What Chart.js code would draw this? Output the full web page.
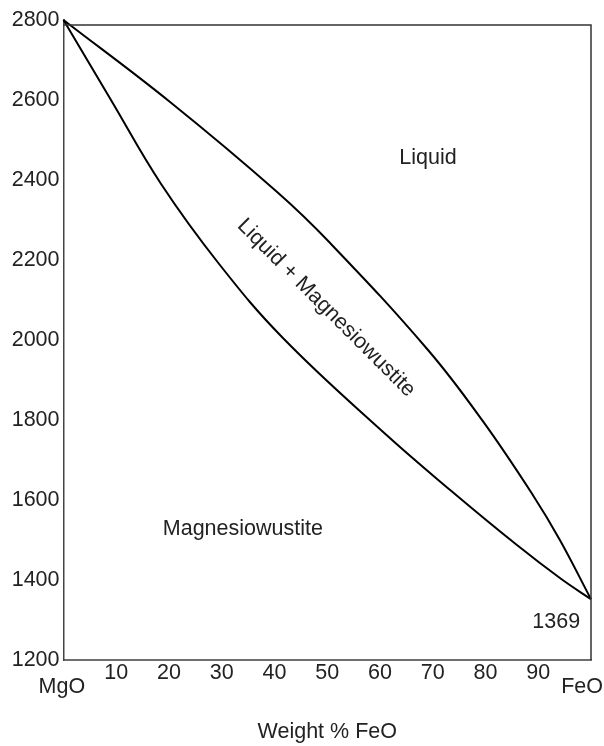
<!DOCTYPE html>
<html>
<head>
<meta charset="utf-8">
<script src="https://cdn.jsdelivr.net/npm/chart.js@4/dist/chart.umd.min.js"></script>
<style>
  html, body { margin: 0; padding: 0; background: #ffffff; }
  #wrap { width: 604px; height: 746px; }
</style>
</head>
<body>
<div id="wrap"><canvas id="c" width="604" height="746"></canvas></div>
<script>
// ---- data ----
const liquidusX = [0, 20.2, 40.5, 50.5, 69.1, 79.5, 89.0, 94.1, 100];
const liquidusT = [2800, 2595, 2370, 2243, 1975, 1797, 1612, 1500, 1352];
const solidusX  = [0, 9.0, 18.5, 29.5, 41.6, 60.6, 73.3, 85.9, 94.3, 100];
const solidusT  = [2800, 2600, 2390, 2190, 2005, 1770, 1625, 1488, 1403, 1352];
const yTicks = [1200, 1400, 1600, 1800, 2000, 2200, 2400, 2600, 2800];
const xTickLabels = ['10', '20', '30', '40', '50', '60', '70', '80', '90'];
const axisTitle = 'Weight % FeO';
const endLabels = ['MgO', 'FeO'];
const regionLabels = ['Liquid', 'Liquid + Magnesiowustite', 'Magnesiowustite', '1369'];

// ---- presentation ----
const FONT = '"Liberation Sans", Arial, Helvetica, sans-serif';
const FS = 21.5;
const TEXT = '#222222';

const toPts = (xs, ys) => xs.map((x, i) => ({ x: x, y: ys[i] }));

// annotation placements (data coordinates), kept separate from the data
const regionPlacement = [
  { x: 69.1, y: 2455, rot: 0 },
  { x: 49.8, y: 2080, rot: 45 },
  { x: 34.0, y: 1527, rot: 0 },
  { x: 93.4, y: 1295, rot: 0 }
];
const endPlacement = [
  { x: -0.3, y: 1132 },
  { x: 98.3, y: 1132 }
];

const textPlugin = {
  id: 'phaseText',
  afterDraw(chart) {
    const { ctx, scales: { x, y }, chartArea } = chart;
    ctx.save();
    // frame: top and right edges
    ctx.strokeStyle = '#333333';
    ctx.lineWidth = 1.5;
    const topY = y.getPixelForValue(2787.5);
    ctx.beginPath();
    ctx.moveTo(chartArea.left, topY);
    ctx.lineTo(chartArea.right, topY);
    ctx.lineTo(chartArea.right, chartArea.bottom);
    ctx.stroke();

    ctx.fillStyle = TEXT;
    ctx.font = FS + 'px ' + FONT;
    ctx.textAlign = 'center';
    ctx.textBaseline = 'middle';
    regionLabels.forEach((t, i) => {
      const p = regionPlacement[i];
      ctx.save();
      ctx.translate(x.getPixelForValue(p.x), y.getPixelForValue(p.y));
      ctx.rotate(p.rot * Math.PI / 180);
      ctx.fillText(t, 0, 0);
      ctx.restore();
    });
    endLabels.forEach((t, i) => {
      const p = endPlacement[i];
      ctx.fillText(t, x.getPixelForValue(p.x), y.getPixelForValue(p.y));
    });
    ctx.restore();
  }
};

new Chart(document.getElementById('c'), {
  type: 'scatter',
  data: {
    datasets: [
      {
        label: 'Liquidus',
        data: toPts(liquidusX, liquidusT),
        showLine: true,
        borderColor: '#000000',
        borderWidth: 2,
        pointRadius: 0,
        tension: 0.4,
        clip: false
      },
      {
        label: 'Solidus',
        data: toPts(solidusX, solidusT),
        showLine: true,
        borderColor: '#000000',
        borderWidth: 2,
        pointRadius: 0,
        tension: 0.4,
        clip: false
      }
    ]
  },
  options: {
    responsive: false,
    animation: false,
    layout: { padding: { top: 20, right: 13, left: 0, bottom: 0 } },
    plugins: {
      legend: { display: false },
      tooltip: { enabled: false }
    },
    scales: {
      x: {
        type: 'linear',
        min: 0,
        max: 100,
        afterFit(s) { s.height = 86; },
        afterBuildTicks(s) {
          s.ticks = xTickLabels.map(v => ({ value: Number(v) }));
        },
        grid: { display: false, drawTicks: false },
        border: { display: true, color: '#6e6e6e', width: 2 },
        ticks: {
          autoSkip: false,
          maxRotation: 0,
          padding: 0,
          color: TEXT,
          font: { family: FONT, size: FS },
          callback: (v) => String(v)
        },
        title: {
          display: true,
          text: axisTitle,
          color: TEXT,
          font: { family: FONT, size: FS },
          padding: { top: 0, bottom: 1 }
        }
      },
      y: {
        type: 'linear',
        min: 1200,
        max: 2800,
        afterFit(s) { s.width = 63.5; },
        afterBuildTicks(s) {
          s.ticks = yTicks.map(v => ({ value: v }));
        },
        grid: { display: false, drawTicks: false },
        border: { display: true, color: '#444444', width: 1.5 },
        ticks: {
          padding: 4,
          color: TEXT,
          font: { family: FONT, size: FS },
          callback: (v) => String(v)
        }
      }
    }
  },
  plugins: [textPlugin]
});
</script>
</body>
</html>
